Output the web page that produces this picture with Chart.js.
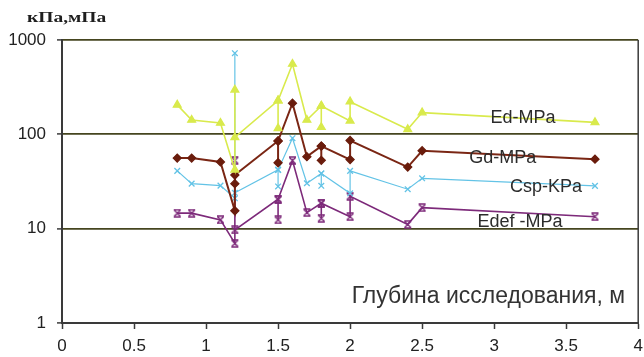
<!DOCTYPE html>
<html>
<head>
<meta charset="utf-8">
<script src="https://cdn.jsdelivr.net/npm/chart.js@4.4.1/dist/chart.umd.min.js"></script>
<style>
  html, body { margin: 0; padding: 0; background: #fff; }
  #wrap { width: 644px; height: 357px; }
</style>
</head>
<body>
<div id="wrap"><canvas id="c" width="644" height="357"></canvas></div>
<script>
// Depths of the survey points, m (repeated depths = repeated readings)
const depths = [0.8, 0.9, 1.1, 1.2, 1.2, 1.2, 1.5, 1.6, 1.7, 1.8, 2.0, 2.0, 2.4, 2.5, 3.7];

// Main readings per parameter, in the order they were taken
const edMPa   = [205, 142, 132, 42, 296, 93, 228, 557, 142, 200, 139, 222, 113, 170, 134];
const gdMPa   = [56, 56, 51, 15.5, 30, 37, 85, 214, 58, 75, 54, 86, 45, 67, 54.5];
const cspKPa  = [41, 30, 28.6, 21, 724, 24, 42, 91, 30.3, 38.5, 23.7, 41, 26.2, 34.2, 28.4];
const edefMPa = [14.6, 14.6, 12.4, 7, 53, 9.7, 20.5, 52.6, 14.8, 18.6, 13.4, 22, 11.1, 16.7, 13.4];

// Second readings at depths 1.5 m and 1.8 m
const repeatDepths = [1.5, 1.8];
const edRepeat   = [116, 119];
const gdRepeat   = [50, 53];
const cspRepeat  = [28, 28.5];
const edefRepeat = [12.4, 12.9];

// Axis ticks and labels
const xTicks = [0, 0.5, 1, 1.5, 2, 2.5, 3, 3.5, 4];
const yTicks = [1, 10, 100, 1000];
const seriesNames = ['Ed-MPa', 'Gd-MPa', 'Csp-KPa', 'Edef -MPa'];
const xTitle = 'Глубина исследования, м';
const yTitle = 'кПа,мПа';

// Where each series name sits, in data units (depth, value)
const nameAnchors = [[3.2, 149], [3.06, 56], [3.36, 27.7], [3.18, 11.8]];
const xTitleAnchor = [2.96, 1.89];

const colors = {
  ed:   '#d9ea4c',
  gd:   '#7a2614',
  gdPt: '#6a1c0c',
  csp:  '#63c3e6',
  edef: '#7d2a7a'
};

// Asterisk-style marker (X with top and bottom bars) for Edef
function barredCrossMarker(color) {
  const c = document.createElement('canvas');
  c.width = 9; c.height = 9;
  const g = c.getContext('2d');
  g.strokeStyle = color; g.lineWidth = 1.4;
  g.beginPath();
  g.moveTo(1.5, 1.5); g.lineTo(7.5, 7.5);
  g.moveTo(7.5, 1.5); g.lineTo(1.5, 7.5);
  g.moveTo(1, 1); g.lineTo(8, 1);
  g.moveTo(1, 8); g.lineTo(8, 8);
  g.stroke();
  return c;
}

function mainPoints(vals) {
  return depths.map((d, i) => ({ x: d, y: vals[i] }));
}
// Vertical links from the main reading to the repeat reading at the same depth
function repeatPoints(vals, reps) {
  const out = [];
  repeatDepths.forEach((d, k) => {
    const i = depths.indexOf(d);
    out.push({ x: d, y: vals[i] }, { x: d, y: reps[k] }, { x: d, y: null });
  });
  return out;
}

function seriesPair(vals, reps, color, ptColor, style, width, radius) {
  const base = {
    showLine: true,
    borderColor: color,
    borderWidth: width,
    pointStyle: style,
    pointRadius: radius,
    pointBackgroundColor: ptColor,
    pointBorderColor: ptColor,
    pointBorderWidth: 1.3,
    spanGaps: false,
    tension: 0
  };
  return [
    Object.assign({ data: mainPoints(vals) }, base),
    Object.assign({ data: repeatPoints(vals, reps) }, base)
  ];
}

const datasets = [
  ...seriesPair(edMPa, edRepeat, colors.ed, colors.ed, 'triangle', 1.6, 4.5),
  ...seriesPair(gdMPa, gdRepeat, colors.gd, colors.gdPt, 'rectRot', 2, 4),
  ...seriesPair(cspKPa, cspRepeat, colors.csp, colors.csp, 'crossRot', 1.2, 4),
  ...seriesPair(edefMPa, edefRepeat, colors.edef, colors.edef, barredCrossMarker(colors.edef), 1.6, 4)
];

const GRID = '#45451f';
const AXIS = '#3a3a3a';

const annotate = {
  id: 'annotate',
  beforeDatasetsDraw(chart) {
    const { ctx, chartArea: a } = chart;
    ctx.save();
    // right frame of the plot area
    ctx.strokeStyle = AXIS;
    ctx.lineWidth = 1.5;
    ctx.beginPath();
    ctx.moveTo(a.right, a.top);
    ctx.lineTo(a.right, a.bottom);
    ctx.stroke();
    ctx.restore();
  },
  afterDatasetsDraw(chart) {
    const { ctx, chartArea: a, scales } = chart;
    const xs = scales.x, ys = scales.y;
    ctx.save();
    ctx.fillStyle = '#2c2c2c';
    ctx.textAlign = 'center';
    ctx.textBaseline = 'middle';
    ctx.font = '18px "Liberation Sans", Arial, sans-serif';
    seriesNames.forEach((name, i) => {
      const px = xs.getPixelForValue(nameAnchors[i][0]);
      const py = ys.getPixelForValue(nameAnchors[i][1]);
      ctx.save();
      if (i === 3) {
        // the lowest name is cut off by the 10 gridline
        const lim = ys.getPixelForValue(10) - 1;
        ctx.beginPath();
        ctx.rect(a.left, a.top, a.right - a.left, lim - a.top);
        ctx.clip();
      }
      ctx.fillText(name, px, py);
      ctx.restore();
    });

    // depth axis title inside the plot
    ctx.font = '23px "Liberation Sans", Arial, sans-serif';
    ctx.fillStyle = '#333';
    ctx.fillText(xTitle, xs.getPixelForValue(xTitleAnchor[0]), ys.getPixelForValue(xTitleAnchor[1]));

    // units title above the value axis
    ctx.font = 'bold 15px "Liberation Serif", "DejaVu Serif", serif';
    ctx.fillStyle = '#1e1e1e';
    ctx.textAlign = 'left';
    ctx.translate(a.left - 35, a.top - 22);
    ctx.scale(1.3, 1);
    ctx.fillText(yTitle, 0, 0);
    ctx.restore();
  }
};

new Chart(document.getElementById('c'), {
  type: 'scatter',
  data: { datasets },
  plugins: [annotate],
  options: {
    responsive: false,
    animation: false,
    events: [],
    layout: { padding: { top: 40, right: 5, left: 0, bottom: 0 } },
    plugins: { legend: { display: false }, tooltip: { enabled: false } },
    scales: {
      x: {
        type: 'linear',
        min: 0,
        max: 4,
        afterBuildTicks(scale) { scale.ticks = xTicks.map(v => ({ value: v })); },
        afterFit(scale) { scale.height = 34; scale.paddingRight = 0; scale.paddingLeft = 0; },
        ticks: {
          color: '#222',
          font: { size: 17, family: '"Liberation Sans", Arial, sans-serif' },
          padding: 7,
          maxRotation: 0,
          autoSkip: false,
          callback: v => String(v)
        },
        grid: {
          drawOnChartArea: false,
          drawTicks: true,
          tickLength: 6,
          tickColor: AXIS,
          tickWidth: 1.5
        },
        border: { display: true, color: AXIS, width: 2 }
      },
      y: {
        type: 'logarithmic',
        min: 1,
        max: 1000,
        afterBuildTicks(scale) { scale.ticks = yTicks.map(v => ({ value: v })); },
        afterFit(scale) { scale.width = 62; },
        ticks: {
          color: '#222',
          font: { size: 17, family: '"Liberation Sans", Arial, sans-serif' },
          padding: 11,
          autoSkip: false,
          callback: v => String(v)
        },
        grid: {
          color: ctx => (ctx.tick && ctx.tick.value === 1) ? 'rgba(0,0,0,0)' : GRID,
          lineWidth: 1.8,
          drawTicks: true,
          tickLength: 5,
          tickColor: AXIS,
          tickWidth: 1.5
        },
        border: { display: true, color: AXIS, width: 2 }
      }
    }
  }
});
</script>
</body>
</html>
